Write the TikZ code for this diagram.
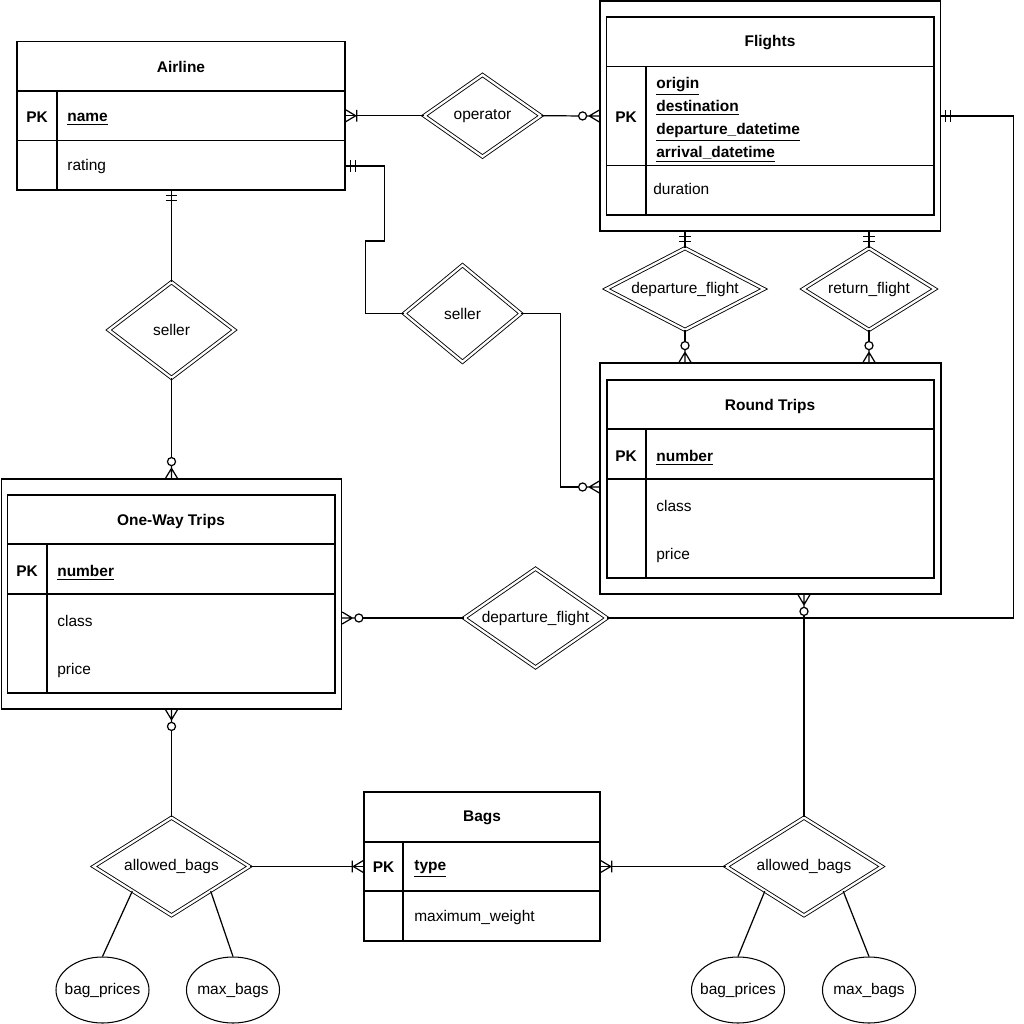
\documentclass[tikz,border=0pt]{standalone}
\usepackage{fontspec}
\setmainfont{Liberation Sans}
\usetikzlibrary{arrows.meta,shapes.geometric,calc}

\newcommand{\erfs}{\fontsize{8.8}{13}\selectfont}

% crow's foot ends
\pgfdeclarearrow{
  name = ErOneOne,
  setup code = {
    \pgfarrowssettipend{0pt}
    \pgfarrowssetlineend{0pt}
    \pgfarrowssetbackend{-6pt}
    \pgfarrowsupperhullpoint{0pt}{3.4pt}
    \pgfarrowsupperhullpoint{-6pt}{3.4pt}
  },
  drawing code = {
    \pgfsetdash{}{0pt}
    \pgfpathmoveto{\pgfpoint{-2.6pt}{3.4pt}}
    \pgfpathlineto{\pgfpoint{-2.6pt}{-3.4pt}}
    \pgfpathmoveto{\pgfpoint{-5.4pt}{3.4pt}}
    \pgfpathlineto{\pgfpoint{-5.4pt}{-3.4pt}}
    \pgfusepathqstroke
  }
}
\pgfdeclarearrow{
  name = ErOneMany,
  setup code = {
    \pgfarrowssettipend{0pt}
    \pgfarrowssetlineend{0pt}
    \pgfarrowssetbackend{-7pt}
    \pgfarrowsupperhullpoint{0pt}{3.4pt}
    \pgfarrowsupperhullpoint{-7pt}{3.4pt}
  },
  drawing code = {
    \pgfsetdash{}{0pt}
    \pgfpathmoveto{\pgfpoint{0pt}{3.4pt}}
    \pgfpathlineto{\pgfpoint{-5.7pt}{0pt}}
    \pgfpathlineto{\pgfpoint{0pt}{-3.4pt}}
    \pgfpathmoveto{\pgfpoint{-6.3pt}{3.4pt}}
    \pgfpathlineto{\pgfpoint{-6.3pt}{-3.4pt}}
    \pgfusepathqstroke
  }
}
\pgfdeclarearrow{
  name = ErZeroMany,
  setup code = {
    \pgfarrowssettipend{0pt}
    \pgfarrowssetlineend{-11.8pt}
    \pgfarrowssetbackend{-12pt}
    \pgfarrowsupperhullpoint{0pt}{3.4pt}
    \pgfarrowsupperhullpoint{-12pt}{3.4pt}
  },
  drawing code = {
    \pgfsetdash{}{0pt}
    \pgfpathmoveto{\pgfpoint{0pt}{3.4pt}}
    \pgfpathlineto{\pgfpoint{-5.7pt}{0pt}}
    \pgfpathlineto{\pgfpoint{0pt}{-3.4pt}}
    \pgfpathmoveto{\pgfpoint{0pt}{0pt}}
    \pgfpathlineto{\pgfpoint{-7.2pt}{0pt}}
    \pgfpathcircle{\pgfpoint{-9.5pt}{0pt}}{2.3pt}
    \pgfusepathqstroke
  }
}

\begin{document}
\begin{tikzpicture}[x=0.2mm, y=-0.2mm,
    tbl/.style={draw, line width=0.8pt, inner sep=0pt},
    grid/.style={line width=0.8pt},
    rel/.style={diamond, draw, double, line width=0.5pt, double distance=1.3pt, inner sep=0pt, font=\erfs},
    attr/.style={ellipse, draw, line width=0.6pt, minimum width=18.6mm, minimum height=13.2mm, inner xsep=-4pt, inner ysep=0pt, font=\erfs},
    ttl/.style={font=\erfs\bfseries},
    pk/.style={font=\erfs\bfseries},
    key/.style={anchor=west, inner sep=0pt, align=left, font=\erfs\bfseries},
    fld/.style={anchor=west, inner sep=0pt, font=\erfs},
    lnk/.style={line width=0.7pt}
]
\useasboundingbox (0,0) rectangle (1024,1024);

% Airline
\node[tbl, minimum width=65.6mm, minimum height=29.7mm] (airline) at (181,115.75) {};
\draw[grid] (17,91) -- (345,91);
\draw[grid] (17,140.5) -- (345,140.5);
\draw[grid] (57,91) -- (57,190);
\node[ttl] (airttl) at (181,67) {Airline};
\node[pk] (airpk) at (37,117) {PK};
\node[key] (airname) at (67,119) {\underline{name}};
\node[fld] (airrat) at (67,166) {rating};

% Flights
\node[tbl, minimum width=68.1mm, minimum height=46mm] (flo) at (770.25,116) {};
\node[tbl, minimum width=65.5mm, minimum height=39.6mm] (fli) at (770.25,116) {};
\draw[grid] (606.5,66.5) -- (934,66.5);
\draw[grid] (606.5,165.5) -- (934,165.5);
\draw[grid] (646,66.5) -- (646,215);
\node[ttl] (fltttl) at (770,43) {Flights};
\node[pk] (fltpk) at (626,117) {PK};
\node[key] (fltkey) at (656,120) {\underline{origin}\\\underline{destination}\\\underline{departure\_datetime}\\\underline{arrival\_datetime}};
\node[fld] (fltdur) at (653,189) {duration};

% Round Trips
\node[tbl, minimum width=68.2mm, minimum height=46.2mm] (rto) at (770.5,478.5) {};
\node[tbl, minimum width=65.4mm, minimum height=39.6mm] (rti) at (770.5,479) {};
\draw[grid] (607,429) -- (934,429);
\draw[grid] (607,479) -- (934,479);
\draw[grid] (646,429) -- (646,578);
\node[ttl] (rtttl) at (770,406) {Round Trips};
\node[pk] (rtpk) at (626,456) {PK};
\node[key] (rtnum) at (656,458) {\underline{number}};
\node[fld] (rtcls) at (656,506) {class};
\node[fld] (rtprc) at (656,555) {price};

% One-Way Trips
\node[tbl, minimum width=68mm, minimum height=46mm] (owo) at (171.5,594) {};
\node[tbl, minimum width=65.5mm, minimum height=39.6mm] (owi) at (171.25,594) {};
\draw[grid] (7.5,544) -- (335,544);
\draw[grid] (7.5,594) -- (335,594);
\draw[grid] (47,544) -- (47,693);
\node[ttl] (owttl) at (171,521) {One-Way Trips};
\node[pk] (owpk) at (27,571) {PK};
\node[key] (ownum) at (57,573) {\underline{number}};
\node[fld] (owcls) at (57,621) {class};
\node[fld] (owprc) at (57,670) {price};

% Bags
\node[tbl, minimum width=47.2mm, minimum height=29.8mm] (bags) at (482,866.5) {};
\draw[grid] (364,842) -- (600,842);
\draw[grid] (364,891) -- (600,891);
\draw[grid] (403,842) -- (403,941);
\node[ttl] (bagttl) at (482,818) {Bags};
\node[pk] (bagpk) at (383.5,867) {PK};
\node[key] (bagtype) at (414,869) {\underline{type}};
\node[fld] (bagmax) at (414,917) {maximum\_weight};

% relationships
\node[rel, minimum width=23.4mm, minimum height=16.4mm, aspect=1.43] (oper) at (482.5,115.75) {operator};
\node[rel, minimum width=25.2mm, minimum height=19.2mm, aspect=1.31] (sellA) at (171.5,330) {seller};
\node[rel, minimum width=23.4mm, minimum height=19.4mm, aspect=1.21] (sellB) at (462.5,313.5) {seller};
\node[rel, minimum width=31.6mm, minimum height=16.4mm, aspect=1.93] (depR) at (685,289) {departure\_flight};
\node[rel, minimum width=26.4mm, minimum height=16.4mm, aspect=1.61] (retR) at (869,289) {return\_flight};
\node[rel, minimum width=28.6mm, minimum height=19.8mm, aspect=1.44] (depO) at (535.5,618) {departure\_flight};
\node[rel, minimum width=31.2mm, minimum height=19.6mm, aspect=1.59] (bagsO) at (171.5,866.5) {allowed\_bags};
\node[rel, minimum width=31.2mm, minimum height=19.6mm, aspect=1.59] (bagsR) at (804,866.5) {allowed\_bags};

% attributes
\node[attr] (bpO) at (102.5,990) {bag\_prices};
\node[attr] (mbO) at (233,990) {max\_bags};
\node[attr] (bpR) at (738,990) {bag\_prices};
\node[attr] (mbR) at (869,990) {max\_bags};

% connectors
\draw[lnk, -ErOneMany] (oper.west) -- (airline.east);
\draw[lnk, -ErZeroMany] (oper.east) -- (flo.west);
\draw[lnk, ErOneOne-] (airline.east |- airrat) -- ++(39,0) |- ++(-19,75) |- (sellB.west);
\draw[lnk, -ErZeroMany] (sellB.east) -- ++(39,0) |- ([yshift=-1.7mm]rto.west);
\draw[lnk, ErOneOne-] (airline.south -| sellA) -- (sellA.north);
\draw[lnk, -ErZeroMany] (sellA.south) -- (owo.north);
\draw[lnk, ErOneOne-] (flo.south -| depR) -- (depR.north);
\draw[lnk, -ErZeroMany] (depR.south) -- (depR.south |- rto.north);
\draw[lnk, ErOneOne-] (flo.south -| retR) -- (retR.north);
\draw[lnk, -ErZeroMany] (retR.south) -- (retR.south |- rto.north);
\draw[lnk, ErOneOne-] (flo.east) -- ++(72,0) |- (depO.east);
\draw[lnk, -ErZeroMany] (depO.west) -- (owo.east |- depO.west);
\draw[lnk, ErZeroMany-] (owo.south) -- (bagsO.north);
\draw[lnk, -ErOneMany] (bagsO.east) -- (bags.west);
\draw[lnk, -ErOneMany] (bagsR.west) -- (bags.east);
\draw[lnk, ErZeroMany-] (rto.south -| bagsR) -- (bagsR.north);
\draw[lnk] (bagsO.south west) -- (bpO.north);
\draw[lnk] (bagsO.south east) -- (mbO.north);
\draw[lnk] (bagsR.south west) -- (bpR.north);
\draw[lnk] (bagsR.south east) -- (mbR.north);
\end{tikzpicture}
\end{document}
